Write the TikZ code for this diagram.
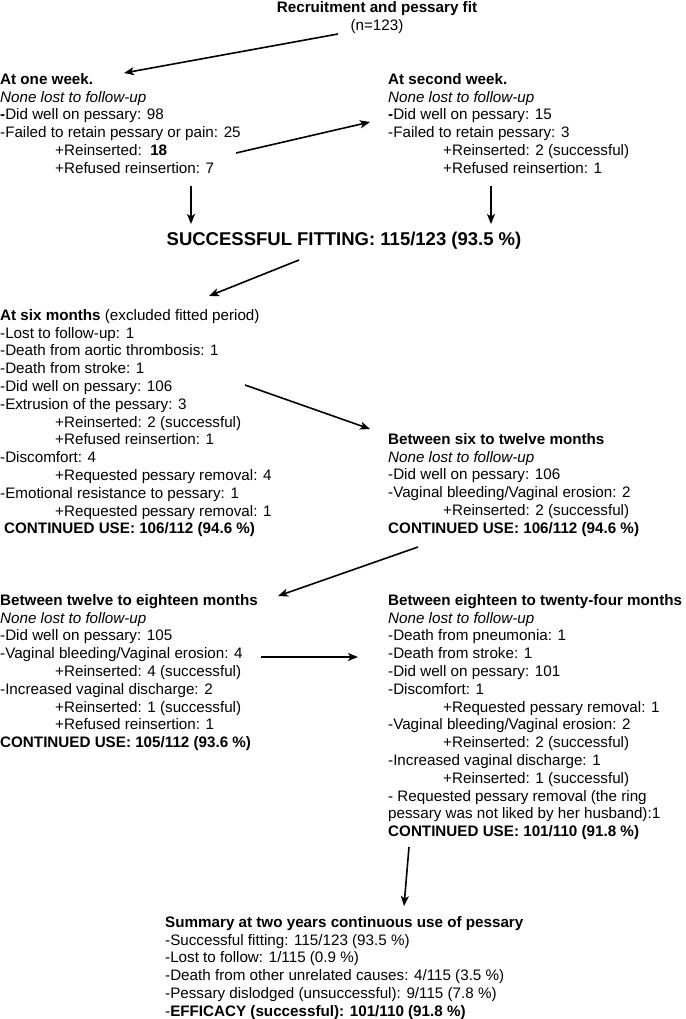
\documentclass[tikz,border=0pt]{standalone}
\usepackage{fontspec}
\setmainfont{Liberation Sans}
\usetikzlibrary{arrows.meta}
\newcommand{\ind}{\hspace*{55pt}}
\begin{document}
\begin{tikzpicture}[x=1pt,y=-1pt,
  blk/.style={anchor=north west, inner sep=0pt, align=left, font=\fontsize{15.2}{17.8}\selectfont},
  ctr/.style={anchor=north, inner sep=0pt, align=center, font=\fontsize{15.2}{17.8}\selectfont},
  arr/.style={line width=1.6pt, -{Stealth[length=10pt,width=8pt,inset=2.5pt]}}]
\useasboundingbox (0,0) rectangle (685,1019);

\node[ctr] (top) at (377,1) {\textbf{Recruitment and pessary fit}\\(n=123)};

\node[blk] (w1) at (0,73) {\textbf{At one week.}\\
\textit{None lost to follow-up}\\
\textbf{-}Did well on pessary: 98\\
-Failed to retain pessary or pain: 25\\
\ind+Reinserted:\ \ \textbf{18}\\
\ind+Refused reinsertion: 7};

\node[blk] (w2) at (388,73) {\textbf{At second week.}\\
\textit{None lost to follow-up}\\
\textbf{-}Did well on pessary: 15\\
-Failed to retain pessary: 3\\
\ind+Reinserted: 2 (successful)\\
\ind+Refused reinsertion: 1};

\node[anchor=center, inner sep=0pt, font=\fontsize{18.5}{22}\selectfont\bfseries] (succ) at (344,241) {SUCCESSFUL FITTING: 115/123 (93.5 \%)};

\node[blk] (m6) at (0,309) {\textbf{At six months} (excluded fitted period)\\
-Lost to follow-up: 1\\
-Death from aortic thrombosis: 1\\
-Death from stroke: 1\\
-Did well on pessary: 106\\
-Extrusion of the pessary: 3\\
\ind+Reinserted: 2 (successful)\\
\ind+Refused reinsertion: 1\\
-Discomfort: 4\\
\ind+Requested pessary removal: 4\\
-Emotional resistance to pessary: 1\\
\ind+Requested pessary removal: 1\\
\hspace*{4pt}\textbf{CONTINUED USE: 106/112 (94.6 \%)}};

\node[blk] (m12) at (388,433) {\textbf{Between six to twelve months}\\
\textit{None lost to follow-up}\\
-Did well on pessary: 106\\
-Vaginal bleeding/Vaginal erosion: 2\\
\ind+Reinserted: 2 (successful)\\
\textbf{CONTINUED USE: 106/112 (94.6 \%)}};

\node[blk] (m18) at (0,594) {\textbf{Between twelve to eighteen months}\\
\textit{None lost to follow-up}\\
-Did well on pessary: 105\\
-Vaginal bleeding/Vaginal erosion: 4\\
\ind+Reinserted: 4 (successful)\\
-Increased vaginal discharge: 2\\
\ind+Reinserted: 1 (successful)\\
\ind+Refused reinsertion: 1\\
\textbf{CONTINUED USE: 105/112 (93.6 \%)}};

\node[blk] (m24) at (388,594) {\textbf{Between eighteen to twenty-four months}\\
\textit{None lost to follow-up}\\
-Death from pneumonia: 1\\
-Death from stroke: 1\\
-Did well on pessary: 101\\
-Discomfort: 1\\
\ind+Requested pessary removal: 1\\
-Vaginal bleeding/Vaginal erosion: 2\\
\ind+Reinserted: 2 (successful)\\
-Increased vaginal discharge: 1\\
\ind+Reinserted: 1 (successful)\\
- Requested pessary removal (the ring\\
pessary was not liked by her husband):1\\
\textbf{CONTINUED USE: 101/110 (91.8 \%)}};

\node[blk] (sum) at (165,916) {\textbf{Summary at two years continuous use of pessary}\\
-Successful fitting: 115/123 (93.5 \%)\\
-Lost to follow: 1/115 (0.9 \%)\\
-Death from other unrelated causes: 4/115 (3.5 \%)\\
-Pessary dislodged (unsuccessful): 9/115 (7.8 \%)\\
-\textbf{EFFICACY (successful): 101/110 (91.8 \%)}};

% connector end points
\coordinate (a1s) at (338,34);  \coordinate (a1e) at (124,73);
\coordinate (a2s) at (236,153); \coordinate (a2e) at (370,122);
\coordinate (a3s) at (191,186); \coordinate (a3e) at (191,224);
\coordinate (a4s) at (491,186); \coordinate (a4e) at (491,224);
\coordinate (a5s) at (299,260); \coordinate (a5e) at (209,296);
\coordinate (a6s) at (245,385); \coordinate (a6e) at (370,429);
\coordinate (a7s) at (418,547); \coordinate (a7e) at (278,596);
\coordinate (a8s) at (261,657); \coordinate (a8e) at (358,657);
\coordinate (a9s) at (409,847); \coordinate (a9e) at (404,906);

\draw[arr] (a1s) -- (a1e);
\draw[arr] (a2s) -- (a2e);
\draw[arr] (a3s) -- (a3e);
\draw[arr] (a4s) -- (a4e);
\draw[arr] (a5s) -- (a5e);
\draw[arr] (a6s) -- (a6e);
\draw[arr] (a7s) -- (a7e);
\draw[arr] (a8s) -- (a8e);
\draw[arr] (a9s) -- (a9e);
\end{tikzpicture}
\end{document}
